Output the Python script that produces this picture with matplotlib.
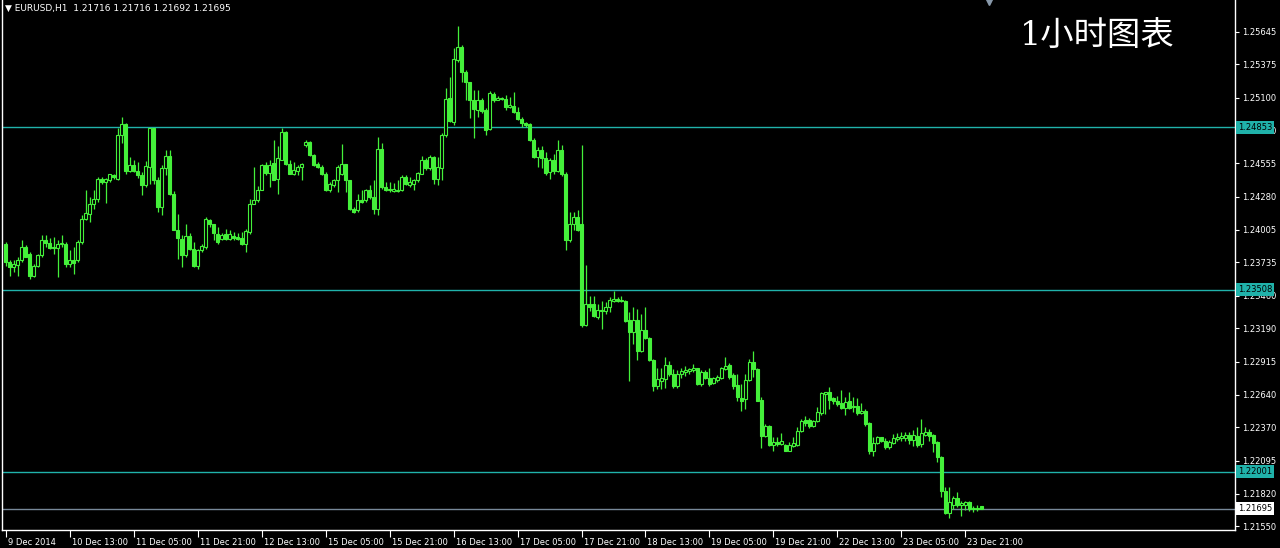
import numpy as np
import matplotlib
matplotlib.use("Agg")
import matplotlib.pyplot as plt
from matplotlib.transforms import ScaledTranslation

# EURUSD H1, 9 Dec 2014 21:00 -> 24 Dec 2014 ~01:00 (245 bars)
symbol = "EURUSD,H1"
last_quote = [1.21716, 1.21716, 1.21692, 1.21695]

opens = [
    1.23885, 1.23738, 1.23697, 1.23710, 1.23757, 1.23863, 1.23802, 1.23622, 1.23702, 1.23793,
    1.23918, 1.23896, 1.23854, 1.23854, 1.23885, 1.23890, 1.23724, 1.23757, 1.23752, 1.23904,
    1.24092, 1.24139, 1.24222, 1.24258, 1.24430, 1.24402, 1.24421, 1.24457, 1.24430, 1.24790,
    1.24881, 1.24493, 1.24540, 1.24493, 1.24457, 1.24374, 1.24527, 1.24845, 1.24416, 1.24195,
    1.24513, 1.24615, 1.24305, 1.24006, 1.23932, 1.23793, 1.23951, 1.23849, 1.23705, 1.23835,
    1.23863, 1.24089, 1.24051, 1.23968, 1.23932, 1.23968, 1.23932, 1.23951, 1.23946, 1.23940,
    1.23885, 1.23987, 1.24222, 1.24250, 1.24338, 1.24540, 1.24477, 1.24560, 1.24430, 1.24587,
    1.24817, 1.24549, 1.24471, 1.24493, 1.24527, 1.24706, 1.24734, 1.24623, 1.24554, 1.24527,
    1.24471, 1.24333, 1.24374, 1.24416, 1.24466, 1.24549, 1.24416, 1.24181, 1.24167, 1.24250,
    1.24250, 1.24333, 1.24277, 1.24181, 1.24671, 1.24360, 1.24347, 1.24327, 1.24338, 1.24333,
    1.24444, 1.24374, 1.24383, 1.24416, 1.24471, 1.24582, 1.24513, 1.24610, 1.24430, 1.24521,
    1.24789, 1.25094, 1.24900, 1.25412, 1.25517, 1.25315, 1.25232, 1.25080, 1.24997, 1.25080,
    1.24997, 1.24836, 1.25130, 1.25080, 1.25094, 1.25085, 1.25025, 1.25030, 1.24983, 1.24919,
    1.24892, 1.24881, 1.24753, 1.24610, 1.24665, 1.24604, 1.24485, 1.24587, 1.24493, 1.24665,
    1.24471, 1.23918, 1.24051, 1.24111, 1.24051, 1.23220, 1.23392, 1.23392, 1.23287, 1.23342,
    1.23331, 1.23364, 1.23414, 1.23434, 1.23425, 1.23420, 1.23258, 1.23156, 1.23258, 1.22998,
    1.23175, 1.23109, 1.22926, 1.22713, 1.22755, 1.22769, 1.22888, 1.22810, 1.22713, 1.22810,
    1.22824, 1.22838, 1.22843, 1.22860, 1.22727, 1.22832, 1.22782, 1.22741, 1.22761, 1.22782,
    1.22852, 1.22888, 1.22805, 1.22722, 1.22614, 1.22606, 1.22763, 1.22910, 1.22855, 1.22597,
    1.22301, 1.22384, 1.22227, 1.22246, 1.22232, 1.22227, 1.22177, 1.22218, 1.22227, 1.22337,
    1.22431, 1.22431, 1.22384, 1.22420, 1.22487, 1.22647, 1.22661, 1.22614, 1.22592, 1.22570,
    1.22531, 1.22586, 1.22537, 1.22550, 1.22487, 1.22503, 1.22404, 1.22177, 1.22238, 1.22288,
    1.22260, 1.22205, 1.22238, 1.22274, 1.22282, 1.22282, 1.22310, 1.22265, 1.22301, 1.22232,
    1.22310, 1.22329, 1.22310, 1.22246, 1.22127, 1.21845, 1.21657, 1.21729, 1.21784, 1.21729,
    1.21723, 1.21751, 1.21693, 1.21706, 1.21716,
]
highs = [
    1.23904, 1.23757, 1.23757, 1.23780, 1.23923, 1.23876, 1.23821, 1.23719, 1.23807, 1.23959,
    1.23959, 1.23940, 1.23946, 1.23918, 1.23959, 1.23904, 1.23835, 1.23863, 1.23918, 1.24125,
    1.24338, 1.24278, 1.24333, 1.24444, 1.24444, 1.24438, 1.24466, 1.24466, 1.24845, 1.24936,
    1.24886, 1.24610, 1.24587, 1.24568, 1.24485, 1.24576, 1.24845, 1.24845, 1.24444, 1.24540,
    1.24665, 1.24665, 1.24327, 1.24139, 1.23959, 1.24056, 1.23979, 1.23904, 1.23849, 1.23885,
    1.24112, 1.24098, 1.24056, 1.24029, 1.23979, 1.24015, 1.24001, 1.23987, 1.23979, 1.23987,
    1.24015, 1.24264, 1.24527, 1.24366, 1.24554, 1.24568, 1.24582, 1.24748, 1.24698, 1.24845,
    1.24825, 1.24582, 1.24568, 1.24540, 1.24560, 1.24753, 1.24742, 1.24637, 1.24568, 1.24540,
    1.24485, 1.24402, 1.24430, 1.24540, 1.24715, 1.24554, 1.24421, 1.24194, 1.24305, 1.24333,
    1.24347, 1.24374, 1.24416, 1.24776, 1.24720, 1.24402, 1.24402, 1.24394, 1.24416, 1.24457,
    1.24457, 1.24444, 1.24430, 1.24485, 1.24615, 1.24596, 1.24623, 1.24615, 1.24610, 1.24803,
    1.25177, 1.25268, 1.25509, 1.25689, 1.25536, 1.25329, 1.25232, 1.25163, 1.25163, 1.25094,
    1.25011, 1.25157, 1.25149, 1.25113, 1.25108, 1.25121, 1.25102, 1.25149, 1.25025, 1.24942,
    1.24900, 1.24886, 1.24762, 1.24693, 1.24698, 1.24651, 1.24596, 1.24637, 1.24748, 1.24706,
    1.24485, 1.24153, 1.24153, 1.24172, 1.24706, 1.23710, 1.23461, 1.23461, 1.23392, 1.23420,
    1.23406, 1.23447, 1.23497, 1.23453, 1.23461, 1.23425, 1.23322, 1.23363, 1.23350, 1.23308,
    1.23363, 1.23120, 1.22935, 1.22865, 1.22860, 1.22954, 1.22921, 1.22852, 1.22843, 1.22860,
    1.22879, 1.22865, 1.22893, 1.22865, 1.22843, 1.22843, 1.22860, 1.22788, 1.22805, 1.22871,
    1.22954, 1.22899, 1.22816, 1.22810, 1.22730, 1.22813, 1.22938, 1.23001, 1.22863, 1.22625,
    1.22398, 1.22393, 1.22288, 1.22288, 1.22321, 1.22232, 1.22246, 1.22288, 1.22376, 1.22440,
    1.22467, 1.22448, 1.22431, 1.22542, 1.22661, 1.22661, 1.22703, 1.22625, 1.22633, 1.22680,
    1.22625, 1.22661, 1.22620, 1.22614, 1.22570, 1.22523, 1.22412, 1.22288, 1.22301, 1.22293,
    1.22282, 1.22265, 1.22315, 1.22321, 1.22329, 1.22329, 1.22329, 1.22348, 1.22371, 1.22440,
    1.22376, 1.22357, 1.22315, 1.22260, 1.22135, 1.21878, 1.21878, 1.21803, 1.21831, 1.21762,
    1.21762, 1.21762, 1.21720, 1.21729, 1.21716,
]
lows = [
    1.23705, 1.23627, 1.23655, 1.23627, 1.23738, 1.23780, 1.23600, 1.23613, 1.23697, 1.23780,
    1.23863, 1.23849, 1.23807, 1.23613, 1.23863, 1.23697, 1.23697, 1.23641, 1.23738, 1.23890,
    1.24084, 1.24070, 1.24181, 1.24236, 1.24388, 1.24228, 1.24402, 1.24424, 1.24416, 1.24720,
    1.24466, 1.24485, 1.24485, 1.24438, 1.24291, 1.24361, 1.24388, 1.24388, 1.24153, 1.24125,
    1.24457, 1.24291, 1.24001, 1.23766, 1.23697, 1.23780, 1.23835, 1.23697, 1.23683, 1.23821,
    1.23849, 1.24029, 1.23918, 1.23890, 1.23918, 1.23918, 1.23918, 1.23918, 1.23918, 1.23876,
    1.23821, 1.23973, 1.24222, 1.24236, 1.24333, 1.24457, 1.24361, 1.24416, 1.24305, 1.24582,
    1.24540, 1.24466, 1.24457, 1.24457, 1.24416, 1.24693, 1.24615, 1.24532, 1.24513, 1.24457,
    1.24327, 1.24319, 1.24360, 1.24319, 1.24457, 1.24319, 1.24167, 1.24145, 1.24153, 1.24228,
    1.24236, 1.24264, 1.24139, 1.24125, 1.24347, 1.24327, 1.24319, 1.24319, 1.24319, 1.24327,
    1.24374, 1.24360, 1.24338, 1.24402, 1.24466, 1.24504, 1.24499, 1.24388, 1.24374, 1.24416,
    1.24776, 1.24900, 1.24872, 1.25398, 1.25232, 1.25080, 1.24928, 1.24762, 1.24942, 1.24975,
    1.24789, 1.24831, 1.25066, 1.25080, 1.25080, 1.24997, 1.25011, 1.24969, 1.24914, 1.24859,
    1.24853, 1.24742, 1.24596, 1.24527, 1.24513, 1.24457, 1.24430, 1.24471, 1.24485, 1.24449,
    1.23835, 1.23904, 1.24001, 1.23995, 1.23204, 1.23212, 1.23337, 1.23281, 1.23268, 1.23185,
    1.23309, 1.23323, 1.23406, 1.23406, 1.23406, 1.23240, 1.22755, 1.23059, 1.22926, 1.22990,
    1.23101, 1.22921, 1.22672, 1.22686, 1.22686, 1.22699, 1.22796, 1.22699, 1.22699, 1.22782,
    1.22796, 1.22810, 1.22824, 1.22722, 1.22713, 1.22769, 1.22713, 1.22727, 1.22749, 1.22769,
    1.22843, 1.22769, 1.22686, 1.22585, 1.22509, 1.22523, 1.22752, 1.22786, 1.22586, 1.22199,
    1.22288, 1.22218, 1.22171, 1.22218, 1.22227, 1.22171, 1.22171, 1.22210, 1.22218, 1.22329,
    1.22384, 1.22365, 1.22376, 1.22412, 1.22476, 1.22481, 1.22523, 1.22564, 1.22550, 1.22523,
    1.22476, 1.22523, 1.22495, 1.22476, 1.22481, 1.22384, 1.22149, 1.22135, 1.22232, 1.22246,
    1.22191, 1.22191, 1.22232, 1.22260, 1.22254, 1.22260, 1.22232, 1.22218, 1.22210, 1.22210,
    1.22301, 1.22260, 1.22163, 1.22080, 1.21795, 1.21651, 1.21623, 1.21693, 1.21712, 1.21637,
    1.21684, 1.21679, 1.21665, 1.21679, 1.21692,
]
closes = [
    1.23738, 1.23697, 1.23724, 1.23757, 1.23863, 1.23780, 1.23622, 1.23705, 1.23793, 1.23918,
    1.23896, 1.23857, 1.23863, 1.23890, 1.23896, 1.23724, 1.23752, 1.23730, 1.23904, 1.24098,
    1.24145, 1.24222, 1.24264, 1.24430, 1.24402, 1.24430, 1.24466, 1.24444, 1.24790, 1.24881,
    1.24493, 1.24540, 1.24493, 1.24457, 1.24374, 1.24532, 1.24845, 1.24416, 1.24195, 1.24513,
    1.24615, 1.24305, 1.24006, 1.23940, 1.23793, 1.23951, 1.23849, 1.23705, 1.23835, 1.23868,
    1.24098, 1.24051, 1.23979, 1.23904, 1.23959, 1.23932, 1.23968, 1.23937, 1.23932, 1.23885,
    1.23995, 1.24222, 1.24250, 1.24338, 1.24540, 1.24477, 1.24540, 1.24421, 1.24596, 1.24817,
    1.24554, 1.24471, 1.24499, 1.24527, 1.24554, 1.24734, 1.24623, 1.24540, 1.24527, 1.24471,
    1.24333, 1.24388, 1.24416, 1.24527, 1.24549, 1.24416, 1.24181, 1.24153, 1.24250, 1.24236,
    1.24333, 1.24277, 1.24181, 1.24671, 1.24360, 1.24338, 1.24333, 1.24347, 1.24327, 1.24444,
    1.24388, 1.24402, 1.24421, 1.24477, 1.24582, 1.24513, 1.24610, 1.24430, 1.24527, 1.24789,
    1.25085, 1.24908, 1.25417, 1.25517, 1.25315, 1.25232, 1.25080, 1.25003, 1.25080, 1.24991,
    1.24831, 1.25141, 1.25080, 1.25094, 1.25085, 1.25019, 1.25038, 1.24983, 1.24919, 1.24886,
    1.24872, 1.24748, 1.24610, 1.24665, 1.24604, 1.24477, 1.24582, 1.24493, 1.24665, 1.24466,
    1.23918, 1.24051, 1.24111, 1.24006, 1.23220, 1.23392, 1.23364, 1.23295, 1.23342, 1.23331,
    1.23364, 1.23425, 1.23431, 1.23414, 1.23414, 1.23254, 1.23156, 1.23258, 1.22998, 1.23175,
    1.23109, 1.22926, 1.22713, 1.22769, 1.22782, 1.22888, 1.22810, 1.22713, 1.22810, 1.22838,
    1.22843, 1.22852, 1.22860, 1.22727, 1.22832, 1.22777, 1.22727, 1.22777, 1.22788, 1.22860,
    1.22879, 1.22788, 1.22713, 1.22620, 1.22586, 1.22763, 1.22910, 1.22855, 1.22592, 1.22301,
    1.22384, 1.22227, 1.22246, 1.22232, 1.22260, 1.22177, 1.22227, 1.22238, 1.22343, 1.22426,
    1.22404, 1.22384, 1.22426, 1.22495, 1.22653, 1.22661, 1.22597, 1.22586, 1.22564, 1.22531,
    1.22578, 1.22531, 1.22550, 1.22487, 1.22503, 1.22398, 1.22177, 1.22238, 1.22288, 1.22254,
    1.22205, 1.22246, 1.22282, 1.22288, 1.22301, 1.22310, 1.22265, 1.22310, 1.22227, 1.22321,
    1.22329, 1.22301, 1.22238, 1.22122, 1.21839, 1.21657, 1.21748, 1.21784, 1.21729, 1.21740,
    1.21751, 1.21693, 1.21706, 1.21693, 1.21695,
]

date_labels = ["9 Dec 2014", "10 Dec 13:00", "11 Dec 05:00", "11 Dec 21:00",
               "12 Dec 13:00", "15 Dec 05:00", "15 Dec 21:00", "16 Dec 13:00",
               "17 Dec 05:00", "17 Dec 21:00", "18 Dec 13:00", "19 Dec 05:00",
               "19 Dec 21:00", "22 Dec 13:00", "23 Dec 05:00", "23 Dec 21:00"]
price_ticks = [1.25645, 1.25375, 1.25100, 1.24830, 1.24555, 1.24280, 1.24005, 1.23735,
               1.23460, 1.23190, 1.22915, 1.22640, 1.22370, 1.22095, 1.21820, 1.21550]
levels = [1.24853, 1.23508, 1.22001]
bid = 1.21695
title_cn = "1小时图表"

CANDLE = "#44f03a"
LEVEL = "#20b2aa"
BIDLINE = "#778899"
FS = 6.0

o = np.array(opens)
h = np.array(highs)
l = np.array(lows)
c = np.array(closes)
x = np.arange(len(c))
bull = c >= o

fig = plt.figure(figsize=(12.8, 5.48), dpi=100, facecolor="black")
ax = fig.add_axes([2 / 1280, 18 / 548, 1233 / 1280, 530 / 548], facecolor="black")

# level lines
for lv in levels:
    ax.axhline(lv, color=LEVEL, lw=1, zorder=1)
ax.axhline(bid, color=BIDLINE, lw=1, zorder=1)

# candles: bull = hollow, bear = filled
ax.vlines(x, l, h, color=CANDLE, lw=0.9, zorder=2)
ax.bar(x, np.abs(c - o), bottom=np.minimum(o, c), width=0.55,
       color=np.where(bull, "black", CANDLE), edgecolor=CANDLE, linewidth=0.8, zorder=3)

ax.set_xlim(-0.9, 307.4)
ax.set_ylim(1.21520, 1.25908)

for s in ["left", "right", "bottom"]:
    ax.spines[s].set_color("white")
    ax.spines[s].set_linewidth(1)
ax.spines["top"].set_visible(False)

ax.yaxis.tick_right()
ax.set_yticks(price_ticks)
ax.set_yticklabels([f"{p:.5f}" for p in price_ticks])
ax.tick_params(axis="y", colors="white", labelsize=FS, length=3, width=0.8, pad=2)

ax.set_xticks(np.arange(0, 16 * len(date_labels), 16))
ax.set_xticklabels(date_labels)
ax.tick_params(axis="x", colors="white", labelsize=FS, length=5, width=0.8, pad=0.5)
shift = ScaledTranslation(2 / 100, 0, fig.dpi_scale_trans)
for lbl in ax.get_xticklabels():
    lbl.set_ha("left")
    lbl.set_transform(lbl.get_transform() + shift)

# price boxes on the scale
for lv in levels:
    ax.annotate(f"{lv:.5f}", xy=(1, lv), xycoords=("axes fraction", "data"),
                xytext=(2, 0), textcoords="offset points", ha="left", va="center",
                fontsize=FS, color="black", annotation_clip=False, zorder=6,
                bbox=dict(boxstyle="square,pad=0.25", fc=LEVEL, ec="none"))
ax.annotate(f"{bid:.5f}", xy=(1, bid), xycoords=("axes fraction", "data"),
            xytext=(2, 0), textcoords="offset points", ha="left", va="center",
            fontsize=FS, color="black", annotation_clip=False, zorder=6,
            bbox=dict(boxstyle="square,pad=0.25", fc="white", ec="none"))

# chart shift marker
ax.plot([len(c) + 1], [1], transform=ax.get_xaxis_transform(), marker="v",
        ms=7, color="#8899aa", clip_on=False, zorder=5)

header = "\u25bc " + symbol + "  " + " ".join(f"{v:.5f}" for v in last_quote)
fig.text(5 / 1280, 1 - 8 / 548, header, color="white", fontsize=6.5, va="center")
fig.text(1097 / 1280, 1 - 37 / 548, title_cn, color="white", fontsize=24,
         fontweight="light", ha="center", va="center",
         family=["DejaVu Serif", "Noto Sans CJK SC"])

fig.savefig("out.png", dpi=100, facecolor="black")
